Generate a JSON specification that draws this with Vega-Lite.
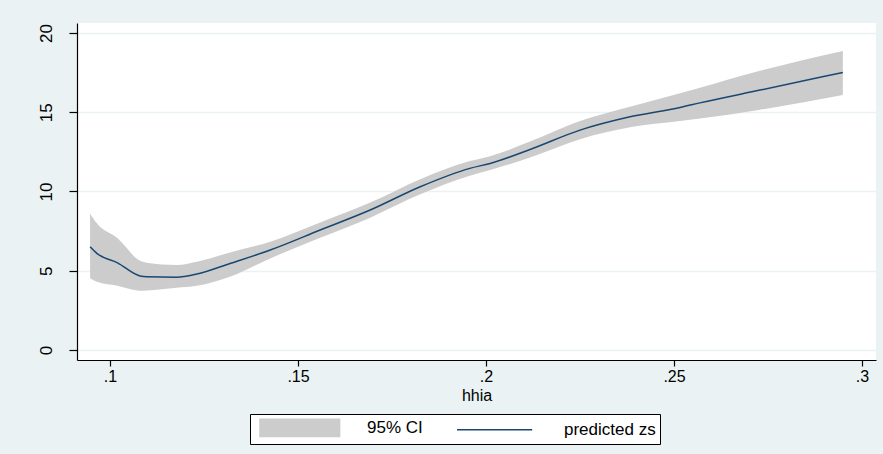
{
  "$schema": "https://vega.github.io/schema/vega-lite/v6.json",
  "width": 799,
  "height": 337,
  "autosize": {"type": "none"},
  "padding": {"left": 77, "top": 23, "right": 7, "bottom": 94},
  "background": "#EAF2F3",
  "config": {"view": {"fill": "white", "stroke": null}, "font": "Liberation Sans"},
  "data": {"values": [
    {"hhia": 0.0947, "pred": 6.51, "lo": 4.52, "hi": 8.62},
    {"hhia": 0.0965, "pred": 6.10, "lo": 4.30, "hi": 7.99},
    {"hhia": 0.1020, "pred": 5.50, "lo": 4.05, "hi": 7.05},
    {"hhia": 0.1080, "pred": 4.67, "lo": 3.74, "hi": 5.63},
    {"hhia": 0.1098, "pred": 4.62, "lo": 3.76, "hi": 5.50},
    {"hhia": 0.1177, "pred": 4.59, "lo": 3.93, "hi": 5.36},
    {"hhia": 0.1231, "pred": 4.79, "lo": 4.05, "hi": 5.57},
    {"hhia": 0.1319, "pred": 5.46, "lo": 4.62, "hi": 6.15},
    {"hhia": 0.1426, "pred": 6.31, "lo": 5.78, "hi": 6.83},
    {"hhia": 0.1559, "pred": 7.57, "lo": 7.08, "hi": 8.05},
    {"hhia": 0.1692, "pred": 8.83, "lo": 8.35, "hi": 9.30},
    {"hhia": 0.1825, "pred": 10.30, "lo": 9.82, "hi": 10.78},
    {"hhia": 0.1957, "pred": 11.46, "lo": 11.00, "hi": 11.92},
    {"hhia": 0.2011, "pred": 11.77, "lo": 11.35, "hi": 12.23},
    {"hhia": 0.2117, "pred": 12.65, "lo": 12.15, "hi": 13.15},
    {"hhia": 0.2250, "pred": 13.87, "lo": 13.30, "hi": 14.45},
    {"hhia": 0.2383, "pred": 14.71, "lo": 14.05, "hi": 15.35},
    {"hhia": 0.2516, "pred": 15.30, "lo": 14.45, "hi": 16.20},
    {"hhia": 0.2569, "pred": 15.59, "lo": 14.60, "hi": 16.55},
    {"hhia": 0.2729, "pred": 16.40, "lo": 15.16, "hi": 17.62},
    {"hhia": 0.2949, "pred": 17.51, "lo": 16.08, "hi": 18.87}
  ]},
  "encoding": {
    "x": {
      "field": "hhia", "type": "quantitative",
      "scale": {"domain": [0.09122, 0.30372], "nice": false, "zero": false},
      "axis": {
        "values": [0.1, 0.15, 0.2, 0.25, 0.3],
        "labelExpr": "substring(format(datum.value, '.2~f'), 1)",
        "grid": false, "title": "hhia", "titleFontWeight": "normal", "titleFontSize": 16, "titleColor": "black", "titlePadding": 3,
        "labelFontSize": 16, "labelColor": "black", "labelPadding": 2,
        "tickSize": 6, "tickColor": "black", "domainColor": "black", "domainWidth": 1.2, "tickWidth": 1.2
      }
    }
  },
  "layer": [
    {
      "mark": {"type": "area", "opacity": 1, "interpolate": "monotone"},
      "encoding": {
        "y": {"field": "lo", "type": "quantitative",
          "scale": {"domain": [-0.63, 20.63], "nice": false, "zero": false},
          "axis": {
            "values": [0, 5, 10, 15, 20], "title": null, "grid": true, "gridColor": "#EAF2F3", "gridWidth": 1.5,
            "labelAngle": 270, "labelAlign": "center", "labelBaseline": "bottom", "labelFontSize": 17, "labelColor": "black",
            "labelPadding": 14, "tickSize": 8, "tickColor": "black", "domainColor": "black", "domainWidth": 1.2, "tickWidth": 1.2
          }
        },
        "y2": {"field": "hi"},
        "color": {
          "datum": "95% CI", "type": "nominal",
          "scale": {"domain": ["95% CI", "predicted zs"], "range": ["#CCCCCC", "#1A476F"]},
          "legend": {
            "orient": "none", "legendX": 173, "legendY": 391, "direction": "horizontal", "title": null,
            "strokeColor": "black", "fillColor": "white", "padding": 4,
            "symbolSize": 306, "labelOffset": 94, "columnPadding": 28,
            "labelFontSize": 17, "labelColor": "black", "symbolStrokeWidth": 1.5, "symbolOpacity": 1,
            "symbolType": {"expr": "datum.value === '95% CI' ? 'M-0.4,-1H8.7V1H-0.4Z' : 'M-0.4,0H8.2'"}
          }
        }
      }
    },
    {
      "mark": {"type": "line", "strokeWidth": 1.5, "interpolate": "monotone"},
      "encoding": {
        "y": {"field": "pred", "type": "quantitative"},
        "color": {
          "datum": "predicted zs", "type": "nominal",
          "legend": {
            "orient": "none", "legendX": 173, "legendY": 391, "direction": "horizontal", "title": null,
            "strokeColor": "black", "fillColor": "white", "padding": 4,
            "symbolSize": 306, "labelOffset": 94, "columnPadding": 28,
            "labelFontSize": 17, "labelColor": "black", "symbolStrokeWidth": 1.5, "symbolOpacity": 1,
            "symbolType": {"expr": "datum.value === '95% CI' ? 'M-0.4,-1H8.7V1H-0.4Z' : 'M-0.4,0H8.2'"}
          }
        }
      }
    }
  ]
}
